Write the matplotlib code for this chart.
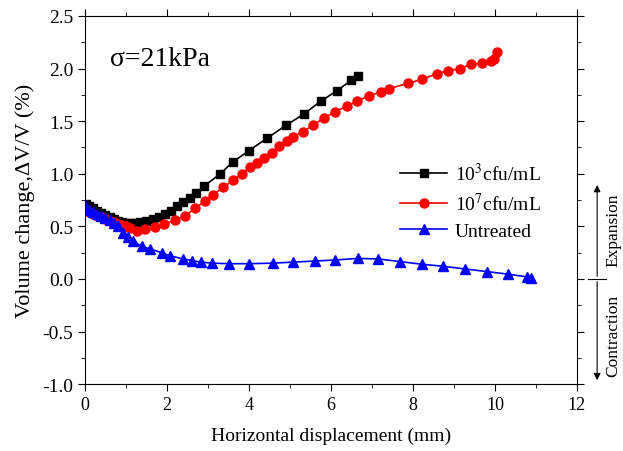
import numpy as np
import matplotlib.pyplot as plt
from matplotlib.ticker import MultipleLocator

plt.rcParams['font.family'] = ['Liberation Serif', 'DejaVu Serif']
plt.rcParams['mathtext.fontset'] = 'stix'

# 10^3 cfu/mL
x_low = [0.03, 0.1, 0.2, 0.3, 0.4, 0.5, 0.6, 0.7, 0.8, 0.9, 1.0, 1.1, 1.2, 1.35, 1.5,
         1.65, 1.8, 1.95, 2.1, 2.25, 2.4, 2.55, 2.7, 2.9, 3.3, 3.6, 4.0, 4.45, 4.9,
         5.35, 5.75, 6.15, 6.5, 6.65]
y_low = [0.71, 0.69, 0.67, 0.65, 0.63, 0.61, 0.59, 0.57, 0.55, 0.54, 0.53, 0.53, 0.53,
         0.54, 0.55, 0.57, 0.59, 0.62, 0.65, 0.69, 0.73, 0.77, 0.82, 0.88, 1.0, 1.11,
         1.22, 1.34, 1.46, 1.57, 1.69, 1.79, 1.89, 1.93]

# 10^7 cfu/mL
x_high = [0.03, 0.1, 0.2, 0.3, 0.4, 0.5, 0.6, 0.7, 0.8, 0.9, 1.0, 1.1, 1.26, 1.46, 1.7,
          1.93, 2.2, 2.44, 2.68, 2.93, 3.13, 3.37, 3.62, 3.82, 4.02, 4.19, 4.37, 4.55,
          4.74, 4.92, 5.08, 5.32, 5.55, 5.83, 6.1, 6.38, 6.63, 6.93, 7.22, 7.42, 7.89,
          8.23, 8.58, 8.86, 9.15, 9.41, 9.68, 9.9, 9.98, 10.06]
y_high = [0.66, 0.64, 0.62, 0.60, 0.59, 0.57, 0.55, 0.54, 0.52, 0.51, 0.50, 0.48, 0.46,
          0.47, 0.49, 0.52, 0.56, 0.60, 0.67, 0.74, 0.80, 0.87, 0.94, 1.0, 1.06, 1.10,
          1.15, 1.20, 1.26, 1.31, 1.35, 1.40, 1.46, 1.53, 1.59, 1.64, 1.69, 1.74, 1.78,
          1.81, 1.86, 1.90, 1.95, 1.98, 2.0, 2.04, 2.05, 2.07, 2.09, 2.16]

# Untreated
x_un = [0.03, 0.1, 0.2, 0.3, 0.4, 0.5, 0.6, 0.7, 0.8, 0.93, 1.05, 1.18, 1.38, 1.59,
        1.87, 2.07, 2.4, 2.6, 2.82, 3.11, 3.52, 4.01, 4.59, 5.08, 5.61, 6.1, 6.65,
        7.15, 7.68, 8.21, 8.74, 9.27, 9.8, 10.33, 10.77, 10.89]
y_un = [0.68, 0.66, 0.64, 0.62, 0.60, 0.58, 0.56, 0.53, 0.50, 0.44, 0.40, 0.36, 0.31,
        0.285, 0.25, 0.22, 0.19, 0.175, 0.16, 0.15, 0.145, 0.145, 0.15, 0.16, 0.17,
        0.18, 0.195, 0.19, 0.165, 0.14, 0.12, 0.095, 0.07, 0.045, 0.02, 0.013]

fig = plt.figure(figsize=(6.23, 4.52), dpi=100)
ax = fig.add_axes([0.1364, 0.148, 0.7897, 0.8144])

ax.plot(x_low, y_low, '-s', color='black', markersize=5.5, linewidth=1.2,
        label='10$^3$cfu/mL')
ax.plot(x_high, y_high, '-o', color='red', markersize=6.5, linewidth=1.2,
        label='10$^7$cfu/mL')
ax.plot(x_un, y_un, '-^', color='blue', markersize=7, linewidth=1.2,
        label='Untreated')

ax.set_xlim(0, 12)
ax.set_ylim(-1.0, 2.5)
ax.xaxis.set_major_locator(MultipleLocator(2))
ax.xaxis.set_minor_locator(MultipleLocator(1))
ax.yaxis.set_major_locator(MultipleLocator(0.5))
ax.yaxis.set_minor_locator(MultipleLocator(0.25))
ax.yaxis.set_major_formatter(plt.FuncFormatter(lambda v, p: '%.1f' % v))
ax.tick_params(which='both', direction='out', top=True, right=True)
ax.tick_params(axis='x', labelsize=13)
ax.tick_params(axis='y', labelsize=14)
ax.tick_params(which='major', length=5)
ax.tick_params(which='minor', length=3)

ax.set_xlabel('Horizontal displacement (mm)', fontsize=14, labelpad=10)
ax.set_ylabel('Volume change,ΔV/V (%)', fontsize=16, labelpad=5)

ax.text(0.61, 2.035, 'σ=21kPa', fontsize=20)

ax.legend(loc='upper left', bbox_to_anchor=(0.641, 0.603), frameon=False, fontsize=14,
          handlelength=2.4, handletextpad=0.4, labelspacing=0.4, borderpad=0.0,
          borderaxespad=0.0)

trans = ax.get_yaxis_transform()
ax.annotate('', xy=(1.041, 0.92), xytext=(1.041, 0.0), xycoords=trans, textcoords=trans,
            arrowprops=dict(arrowstyle='-|>', color='black', lw=0.8, mutation_scale=10))
ax.annotate('', xy=(1.041, -0.99), xytext=(1.041, 0.0), xycoords=trans, textcoords=trans,
            arrowprops=dict(arrowstyle='-|>', color='black', lw=0.8, mutation_scale=10))
ax.plot([1.022, 1.06], [0, 0], color='black', lw=0.8, transform=trans, clip_on=False)
ax.text(1.074, 0.476, 'Expansion', rotation=90, transform=trans, fontsize=12.5,
        ha='center', va='center')
ax.text(1.074, -0.53, 'Contraction', rotation=90, transform=trans, fontsize=12.5,
        ha='center', va='center')

fig.savefig('out.png', dpi=100)
